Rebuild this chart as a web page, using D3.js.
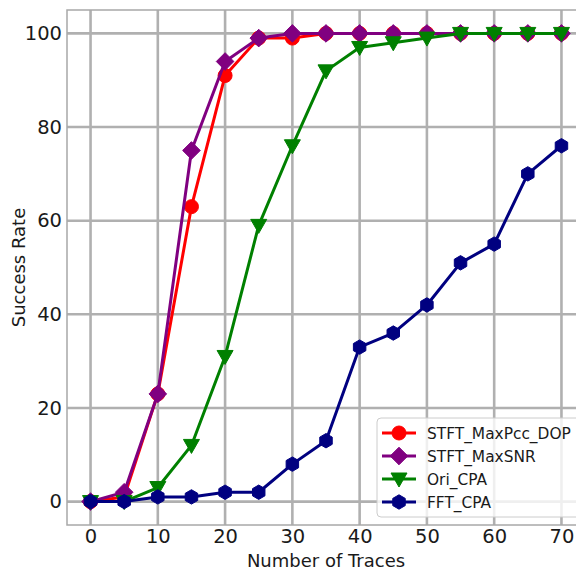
<!DOCTYPE html>
<html>
<head>
<meta charset="utf-8">
<script src="https://cdn.jsdelivr.net/npm/d3@7"></script>
<style>
  html, body { margin: 0; padding: 0; background: #fff; }
  svg { display: block; font-family: "DejaVu Sans", sans-serif; }
</style>
</head>
<body>
<svg id="chart" width="576" height="570"></svg>
<script>
// Number of traces used in each attack
const traces = [0, 5, 10, 15, 20, 25, 30, 35, 40, 45, 50, 55, 60, 65, 70];

// Success rate (%) per method
const stftMaxPccDop = [0, 1, 23, 63, 91, 99, 99, 100, 100, 100, 100, 100, 100, 100, 100];
const stftMaxSnr    = [0, 2, 23, 75, 94, 99, 100, 100, 100, 100, 100, 100, 100, 100, 100];
const oriCpa        = [0, 0, 3, 12, 31, 59, 76, 92, 97, 98, 99, 100, 100, 100, 100];
const fftCpa        = [0, 0, 1, 1, 2, 2, 8, 13, 33, 36, 42, 51, 55, 70, 76];

const seriesNames = ["STFT_MaxPcc_DOP", "STFT_MaxSNR", "Ori_CPA", "FFT_CPA"];
const xTicks = [0, 10, 20, 30, 40, 50, 60, 70];
const yTicks = [0, 20, 40, 60, 80, 100];

const series = [
  { name: seriesNames[0], values: stftMaxPccDop, color: "#ff0000", marker: "circle" },
  { name: seriesNames[1], values: stftMaxSnr,    color: "#800080", marker: "diamond" },
  { name: seriesNames[2], values: oriCpa,        color: "#008000", marker: "tridown" },
  { name: seriesNames[3], values: fftCpa,        color: "#000080", marker: "hexagon" }
];

const svg = d3.select("#chart");
const plotLeft = 67, plotTop = 10, plotRight = 585, plotBottom = 525;

const x = d3.scaleLinear().domain([-3.5, 73.5]).range([plotLeft, plotRight]);
const y = d3.scaleLinear().domain([-5, 105]).range([plotBottom, plotTop]);

// marker shapes, centred on the origin
function markerPath(type) {
  const p = d3.path();
  if (type === "circle") {
    p.arc(0, 0, 7, 0, 2 * Math.PI);
  } else if (type === "diamond") {
    const r = 8.8;
    p.moveTo(0, -r); p.lineTo(r, 0); p.lineTo(0, r); p.lineTo(-r, 0);
  } else if (type === "tridown") {
    const r = 8;
    p.moveTo(-r, -r * 0.75); p.lineTo(r, -r * 0.75); p.lineTo(0, r);
  } else if (type === "hexagon") {
    const r = 7.2;
    for (let i = 0; i < 6; i++) {
      const a = Math.PI / 2 + i * Math.PI / 3;
      const px = r * Math.cos(a), py = r * Math.sin(a);
      if (i === 0) p.moveTo(px, py); else p.lineTo(px, py);
    }
  }
  p.closePath();
  return p.toString();
}

// grid
const grid = svg.append("g");
grid.selectAll("line.gx").data(xTicks).join("line")
  .attr("x1", d => x(d)).attr("x2", d => x(d))
  .attr("y1", plotTop).attr("y2", plotBottom)
  .attr("stroke", "#b0b0b0").attr("stroke-width", 2.6);
grid.selectAll("line.gy").data(yTicks).join("line")
  .attr("x1", plotLeft).attr("x2", plotRight)
  .attr("y1", d => y(d)).attr("y2", d => y(d))
  .attr("stroke", "#b0b0b0").attr("stroke-width", 2.6);

// axes frame
svg.append("rect")
  .attr("x", plotLeft).attr("y", plotTop)
  .attr("width", plotRight - plotLeft).attr("height", plotBottom - plotTop)
  .attr("fill", "none").attr("stroke", "#a8a8a8").attr("stroke-width", 1.5);

// axes (labels only, no tick marks)
const xAxis = svg.append("g").attr("transform", `translate(0,${plotBottom})`)
  .call(d3.axisBottom(x).tickValues(xTicks).tickSize(0).tickPadding(4));
const yAxis = svg.append("g").attr("transform", `translate(${plotLeft},0)`)
  .call(d3.axisLeft(y).tickValues(yTicks).tickSize(0).tickPadding(5));
[xAxis, yAxis].forEach(a => {
  a.select(".domain").remove();
  a.selectAll("text").attr("font-size", 19.5).attr("fill", "#1a1a1a")
    .attr("font-family", "DejaVu Sans, sans-serif");
});

// axis titles
svg.append("text")
  .attr("x", (plotLeft + plotRight) / 2).attr("y", 567)
  .attr("text-anchor", "middle").attr("font-size", 18).attr("fill", "#1a1a1a")
  .text("Number of Traces");
svg.append("text")
  .attr("transform", `translate(25,${(plotTop + plotBottom) / 2}) rotate(-90)`)
  .attr("text-anchor", "middle").attr("font-size", 18).attr("fill", "#1a1a1a")
  .text("Success Rate");

// series
const line = d3.line().x(d => x(d[0])).y(d => y(d[1]));
series.forEach(s => {
  const pts = traces.map((t, i) => [t, s.values[i]]);
  const g = svg.append("g");
  g.append("path").datum(pts)
    .attr("d", line).attr("fill", "none")
    .attr("stroke", s.color).attr("stroke-width", 3).attr("stroke-linejoin", "round");
  g.selectAll("path.m").data(pts).join("path")
    .attr("class", "m")
    .attr("d", markerPath(s.marker))
    .attr("transform", d => `translate(${x(d[0])},${y(d[1])})`)
    .attr("fill", s.color).attr("stroke", s.color).attr("stroke-width", 1);
});

// legend
const lg = svg.append("g");
lg.append("rect")
  .attr("x", 377).attr("y", 418).attr("width", 230).attr("height", 99)
  .attr("rx", 4).attr("fill", "#ffffff").attr("fill-opacity", 0.8)
  .attr("stroke", "#cccccc").attr("stroke-width", 1);
series.forEach((s, i) => {
  const cy = 433 + i * 23;
  lg.append("line").attr("x1", 382).attr("x2", 416).attr("y1", cy).attr("y2", cy)
    .attr("stroke", s.color).attr("stroke-width", 3);
  lg.append("path").attr("d", markerPath(s.marker))
    .attr("transform", `translate(399,${cy})`)
    .attr("fill", s.color).attr("stroke", s.color).attr("stroke-width", 1);
  lg.append("text").attr("x", 427).attr("y", cy).attr("dy", "0.36em")
    .attr("font-size", 15.4).attr("fill", "#1a1a1a").text(s.name);
});
</script>
</body>
</html>
